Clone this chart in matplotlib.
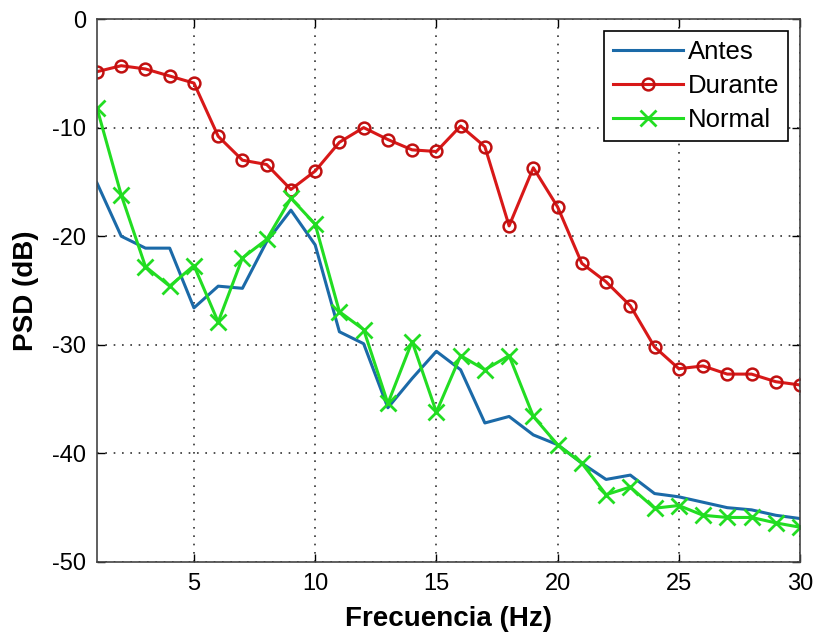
import matplotlib.pyplot as plt
import numpy as np

plt.rcParams['font.family'] = ['Liberation Sans', 'DejaVu Sans']
plt.rcParams['axes.unicode_minus'] = False

freq = np.arange(1, 31)

antes = [-15.1, -20.0, -21.1, -21.1, -26.6, -24.6, -24.8, -20.5, -17.6, -20.8,
         -28.8, -29.9, -35.8, -33.1, -30.6, -32.3, -37.2, -36.6, -38.3, -39.2,
         -40.9, -42.4, -42.0, -43.7, -44.0, -44.5, -45.0, -45.2, -45.7, -46.0]

durante = [-4.85, -4.3, -4.6, -5.25, -5.9, -10.8, -13.0, -13.4, -15.7, -14.0,
           -11.35, -10.0, -11.1, -12.05, -12.2, -9.85, -11.75, -19.05, -13.7, -17.3,
           -22.5, -24.2, -26.4, -30.2, -32.2, -31.95, -32.7, -32.7, -33.4, -33.7]

normal = [-8.2, -16.2, -22.8, -24.6, -22.7, -27.9, -22.0, -20.3, -16.5, -18.9,
          -26.95, -28.6, -35.4, -29.7, -36.2, -31.0, -32.3, -31.0, -36.6, -39.2,
          -40.9, -43.8, -43.1, -45.05, -44.8, -45.7, -45.9, -45.9, -46.4, -46.8]

fig = plt.figure(figsize=(8.17, 6.36), dpi=100)
ax = fig.add_axes([0.1187, 0.1164, 0.8605, 0.8537])

ax.plot(freq, antes, color='#1b6aa8', lw=2.2, label='Antes')
ax.plot(freq, durante, color='#d81818', lw=2.2, marker='o', markersize=8.5,
        markerfacecolor='none', markeredgecolor='#c01010', markeredgewidth=1.8,
        label='Durante')
ax.plot(freq, normal, color='#22dd22', lw=2.2, marker='x', markersize=11,
        markeredgewidth=2.0, label='Normal')

ax.set_xlim(1, 30)
ax.set_ylim(-50, 0)
ax.set_xticks([5, 10, 15, 20, 25, 30])
ax.set_yticks([-50, -40, -30, -20, -10, 0])
ax.grid(True, color='#333333', linestyle=(0, (1, 4)), lw=1.2)
ax.tick_params(direction='in', length=6, width=1, labelsize=17, pad=8,
               top=True, right=True)
for s in ax.spines.values():
    s.set_color('#444444')
    s.set_linewidth(1.2)

ax.set_xlabel('Frecuencia (Hz)', fontsize=20, fontweight='bold', labelpad=8)
ax.set_ylabel('PSD (dB)', fontsize=20, fontweight='bold', labelpad=9)

leg = ax.legend(loc='upper right', fontsize=18.5, fancybox=False, framealpha=1,
                edgecolor='black', handlelength=2.7, handletextpad=0.2,
                borderpad=0.35, labelspacing=0.4, borderaxespad=0.45)
leg.get_frame().set_linewidth(1.2)

fig.savefig('out.png', dpi=100)
